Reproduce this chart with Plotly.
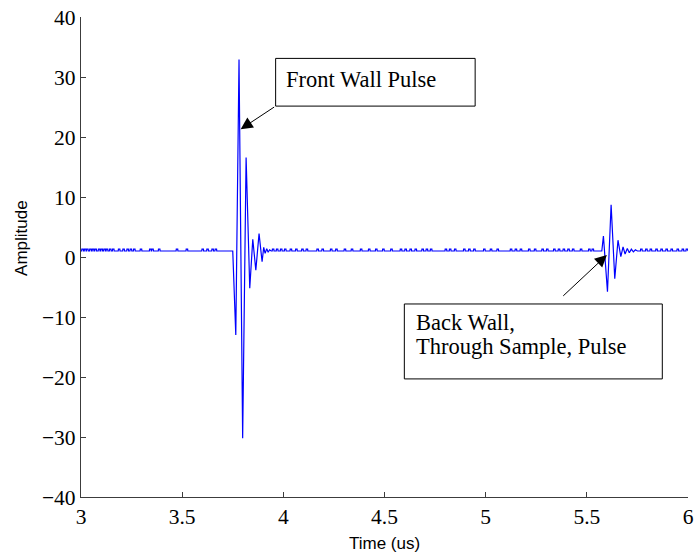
import plotly.graph_objects as go

# ---------------- data ----------------
baseline_level = 1.0
blip_level = 1.3

# small dash-like blips on the baseline: start times in us
blip_start = [3.003, 3.016, 3.027, 3.042, 3.055, 3.068, 3.085, 3.098, 3.112, 3.124, 3.140, 3.155,
              3.184, 3.206, 3.226, 3.242, 3.259, 3.292, 3.338, 3.349, 3.382, 3.470, 3.519,
              3.597, 3.621, 3.646, 3.662,
              3.945, 3.965, 3.985, 4.005, 4.033, 4.060, 4.090, 4.112, 4.165, 4.190, 4.232, 4.258,
              4.300, 4.335, 4.380, 4.420, 4.455, 4.490, 4.530, 4.577, 4.600, 4.625, 4.650,
              4.684, 4.705, 4.726, 4.799, 4.820, 4.845, 4.890, 4.915, 4.940, 4.989, 5.022,
              5.055, 5.121, 5.145, 5.170, 5.211, 5.240, 5.277, 5.300, 5.335, 5.358, 5.382,
              5.405, 5.428, 5.467, 5.508, 5.525,
              5.765, 5.790, 5.812, 5.840, 5.865, 5.890, 5.915, 5.945, 5.970, 5.990]
blip_width = 0.008

# pulse samples (time in us, amplitude)
front_t = [3.750, 3.765, 3.781, 3.799, 3.816, 3.834, 3.849, 3.864, 3.880, 3.895,
           3.903, 3.910, 3.918, 3.925, 3.932, 3.940]
front_a = [1.0, -13.0, 32.9, -30.2, 16.6, -5.2, 2.95, -2.2, 3.9, -0.8,
           1.6, 0.6, 1.4, 0.8, 1.2, 1.0]

back_t = [5.574, 5.582, 5.602, 5.620, 5.638, 5.654, 5.668, 5.679, 5.689, 5.700,
          5.710, 5.720, 5.730, 5.740, 5.750]
back_a = [1.0, 3.5, -5.8, 8.7, -3.6, 2.8, 0.05, 1.7, 0.5, 1.4,
          0.7, 1.3, 0.85, 1.2, 1.0]

x_ticks = [3, 3.5, 4, 4.5, 5, 5.5, 6]
x_tick_labels = ["3", "3.5", "4", "4.5", "5", "5.5", "6"]
y_ticks = [-40, -30, -20, -10, 0, 10, 20, 30, 40]

# ---------------- assemble the trace ----------------
t_all = [3.0]
a_all = [baseline_level]
events = [("blip", s) for s in blip_start]
events.append(("front", front_t[0]))
events.append(("back", back_t[0]))
events.sort(key=lambda e: e[1])
for kind, s in events:
    if kind == "blip":
        t_all += [s, s + 0.001, s + blip_width, s + blip_width + 0.001]
        a_all += [baseline_level, blip_level, blip_level, baseline_level]
    elif kind == "front":
        t_all += front_t
        a_all += front_a
    else:
        t_all += back_t
        a_all += back_a
t_all.append(6.0)
a_all.append(baseline_level)

fig = go.Figure()
fig.add_trace(go.Scatter(x=t_all, y=a_all, mode="lines",
                         line=dict(color="#0000ff", width=1.2),
                         showlegend=False, hoverinfo="skip"))

serif = "Liberation Serif, Times New Roman, serif"
sans = "Liberation Sans, Arial, sans-serif"
axis_col = "#3c3c3c"

fig.update_layout(
    width=697, height=553,
    margin=dict(l=81, r=9, t=17, b=56),
    paper_bgcolor="white", plot_bgcolor="white",
    xaxis=dict(range=[3, 6], tickvals=x_ticks, ticktext=x_tick_labels,
               ticks="inside", ticklen=5, tickcolor=axis_col, showline=True,
               linecolor=axis_col, linewidth=1.2, showgrid=False, zeroline=False,
               automargin=False,
               tickfont=dict(family=serif, size=21.5, color="black")),
    yaxis=dict(range=[-40, 40], tickvals=y_ticks,
               ticks="inside", ticklen=5, tickcolor=axis_col, showline=True,
               linecolor=axis_col, linewidth=1.2, showgrid=False, zeroline=False,
               automargin=False,
               tickfont=dict(family=serif, size=21.5, color="black")),
)

# axis titles
fig.add_annotation(text="Time (us)", xref="paper", yref="paper", x=0.5, y=-0.096,
                   xanchor="center", yanchor="middle", showarrow=False,
                   font=dict(family=sans, size=17, color="black"))
fig.add_annotation(text="Amplitude", xref="paper", yref="paper", x=-0.097, y=0.54,
                   xanchor="center", yanchor="middle", showarrow=False, textangle=-90,
                   font=dict(family=sans, size=17, color="black"))

# text boxes
fig.add_shape(type="rect", xref="x", yref="y", x0=3.962, x1=4.948, y0=25.15, y1=33.1,
              line=dict(color="black", width=1), fillcolor="white", layer="above")
fig.add_shape(type="rect", xref="x", yref="y", x0=4.598, x1=5.873, y0=-20.32, y1=-7.83,
              line=dict(color="black", width=1), fillcolor="white", layer="above")

fig.add_annotation(text="Front Wall Pulse", xref="x", yref="y", x=4.005, y=29.6,
                   xanchor="left", yanchor="middle", showarrow=False,
                   font=dict(family=serif, size=22.5, color="black"))
fig.add_annotation(text="Back Wall,", xref="x", yref="y",
                   x=4.645, y=-10.9, xanchor="left", yanchor="middle", align="left",
                   showarrow=False, font=dict(family=serif, size=22.5, color="black"))
fig.add_annotation(text="Through Sample, Pulse", xref="x", yref="y",
                   x=4.645, y=-14.9, xanchor="left", yanchor="middle", align="left",
                   showarrow=False, font=dict(family=serif, size=22.5, color="black"))

# arrows
fig.add_annotation(x=3.789, y=21.3, ax=3.962, ay=25.15, xref="x", yref="y",
                   axref="x", ayref="y", text="", showarrow=True,
                   arrowhead=2, arrowsize=2.4, arrowwidth=1, arrowcolor="black")
fig.add_annotation(x=5.599, y=0.33, ax=5.376, ay=-6.71, xref="x", yref="y",
                   axref="x", ayref="y", text="", showarrow=True,
                   arrowhead=2, arrowsize=2.4, arrowwidth=1, arrowcolor="black")

fig.write_html("out.html", config={"displayModeBar": False},
               post_script="document.body.style.margin='0px';document.body.style.overflow='hidden';")
